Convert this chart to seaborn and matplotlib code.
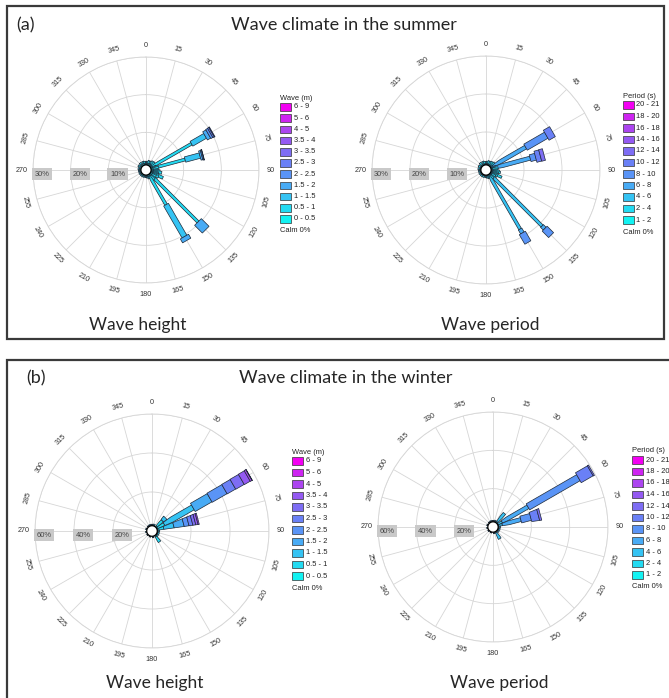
import numpy as np
import matplotlib
matplotlib.use("Agg")
import matplotlib.pyplot as plt
from matplotlib.patches import Rectangle
import seaborn as sns

# ---------------------------------------------------------------- data
HEIGHT_CLASSES = ["0 - 0.5", "0.5 - 1", "1 - 1.5", "1.5 - 2", "2 - 2.5", "2.5 - 3",
                  "3 - 3.5", "3.5 - 4", "4 - 5", "5 - 6", "6 - 9"]
PERIOD_CLASSES = ["1 - 2", "2 - 4", "4 - 6", "6 - 8", "8 - 10", "10 - 12",
                  "12 - 14", "14 - 16", "16 - 18", "18 - 20", "20 - 21"]

# frequency (%) per direction (deg) and class, lowest class first
SUMMER_HS_DIRS = [0, 10, 20, 30, 40, 50, 60, 70, 75, 80, 90, 95, 100, 105, 110, 115, 120,
                  125, 135, 140, 150, 160, 170, 180, 200, 220, 240, 260, 280, 300, 320, 340, 350]
SUMMER_HS = [[0.5, 0.4], [0.5, 0.5], [0.5, 0.8], [0.6, 0.6], [0.6, 1.0], [0.5, 1.2],
             [0.5, 12.1, 4.2, 1.0, 0.6, 0.4, 0.2],
             [0.5, 1.0],
             [0.5, 8.9, 4.1, 0.5, 0.3, 0.1],
             [0.6, 1.5], [0.7, 1.2], [0.6, 1.8], [0.7, 2.2], [0.6, 1.5], [0.6, 1.4],
             [0.6, 3.0], [0.6, 1.8], [0.6, 1.2],
             [0.5, 17.7, 0.0, 2.9],
             [0.6, 1.4],
             [0.4, 8.9, 9.8, 1.2],
             [0.5, 0.6], [0.4, 0.4], [0.4, 0.3], [0.4, 0.3], [0.4, 0.3], [0.4, 0.3],
             [0.4, 0.3], [0.4, 0.4], [0.5, 0.5], [0.5, 0.6], [0.5, 0.6], [0.5, 0.5]]

SUMMER_TP_DIRS = SUMMER_HS_DIRS
SUMMER_TP = [[0.3, 0.6], [0.3, 0.7], [0.3, 0.9], [0.4, 0.8], [0.4, 1.0], [0.4, 1.2],
             [0.0, 0.3, 0.5, 9.9, 6.3, 1.9],
             [0.4, 1.0],
             [0.0, 0.3, 0.5, 9.9, 1.5, 1.3, 1.0],
             [0.4, 1.5], [0.5, 1.3], [0.4, 1.8], [0.5, 2.0], [0.4, 1.6], [0.4, 1.5],
             [0.4, 2.8], [0.4, 1.6], [0.4, 1.2],
             [0.0, 0.5, 19.0, 1.0, 2.4],
             [0.4, 1.2],
             [0.0, 0.5, 16.1, 1.2, 2.9],
             [0.4, 0.6], [0.3, 0.5], [0.3, 0.4], [0.3, 0.4], [0.3, 0.4], [0.3, 0.4],
             [0.3, 0.4], [0.3, 0.5], [0.3, 0.6], [0.4, 0.7], [0.4, 0.7], [0.3, 0.6]]

WINTER_HS_DIRS = [0, 20, 45, 60, 75, 90, 110, 130, 145, 170, 200, 230, 260, 290, 320, 340]
WINTER_HS = [[0.4, 0.4], [0.4, 0.6],
             [0.8, 4.0, 2.2],
             [0.5, 4.0, 17.1, 9.9, 8.8, 5.0, 5.0, 3.5, 1.0, 0.2],
             [0.5, 3.0, 5.3, 5.2, 2.5, 2.0, 1.5, 1.2, 0.6],
             [0.4, 0.8], [0.4, 0.8], [0.4, 0.8],
             [0.8, 3.3],
             [0.4, 0.4], [0.3, 0.3], [0.3, 0.3], [0.3, 0.3], [0.3, 0.4], [0.3, 0.4], [0.4, 0.4]]

WINTER_TP_DIRS = [0, 20, 40, 60, 75, 90, 110, 130, 150, 170, 200, 230, 260, 290, 320, 340]
WINTER_TP = [[0.0, 0.4, 0.4], [0.0, 0.4, 0.6],
             [0.0, 0.8, 5.8],
             [0.0, 0.3, 2.4, 15.7, 30.4, 7.2, 0.7],
             [0.0, 0.3, 2.0, 10.1, 5.3, 4.2, 1.1],
             [0.0, 0.4, 0.8], [0.0, 0.4, 0.8], [0.0, 0.4, 0.8],
             [0.0, 0.8, 3.6],
             [0.0, 0.4, 0.4], [0.0, 0.3, 0.3], [0.0, 0.3, 0.3], [0.0, 0.3, 0.3],
             [0.0, 0.3, 0.4], [0.0, 0.3, 0.4], [0.0, 0.4, 0.4]]

SUMMER_RINGS = [10, 20, 30]
WINTER_RINGS = [20, 40, 60]

# ---------------------------------------------------------------- style
sns.set_theme(style="white")
plt.rcParams["font.family"] = ["Liberation Sans", "DejaVu Sans"]
TITLE_FONT = ["Lato", "DejaVu Sans"]

CLASS_COLORS = sns.blend_palette(["#12F2F2", "#2FCBF2", "#4FA2F6", "#6A80F6",
                                  "#8C60F2", "#B43EF0", "#F200F2"], 11)
EDGE = "#1E2A38"
# bar thickness (pixels) of each class: higher classes are drawn wider
HEIGHT_WIDTHS = [1.5, 2.8, 5.5, 9.5, 10.5, 11.0, 11.5, 12.0, 12.5, 13.0, 13.5]
PERIOD_WIDTHS = [1.5, 2.3, 3.0, 4.0, 7.0, 11.5, 12.0, 12.5, 13.0, 13.5, 14.0]
CALM_FRAC = 0.045

W, H = 669, 698
fig = plt.figure(figsize=(W / 100, H / 100), dpi=100)


def fx(x):
    return x / W


def fy(y):
    return 1 - y / H


def label_rotation(ang):
    if ang % 90 == 0:
        return 0
    if ang < 90:
        return -ang
    if ang < 270:
        return 180 - ang
    return 360 - ang


def segment(ax, theta, r0, r1, width_px, px_per_unit, color):
    """Stacked rose segment with parallel sides of constant pixel thickness."""
    rs = np.linspace(r0, r1, 12)
    off = np.minimum((width_px / 2) / (rs * px_per_unit), np.radians(7))
    th = np.concatenate([theta - off, (theta + off)[::-1]])
    rr = np.concatenate([rs, rs[::-1]])
    ax.fill(th, rr, facecolor=color, edgecolor=EDGE, lw=0.5, zorder=3)


def draw_rose(cx, cy, R, dirs, table, rings, widths):
    ax = fig.add_axes([fx(cx - R), fy(cy + R), 2 * R / W, 2 * R / H], projection="polar")
    rmax = rings[-1]
    ax.set_theta_zero_location("N")
    ax.set_theta_direction(-1)
    ax.set_xticks(np.radians(np.arange(0, 360, 15)))
    ax.set_xticklabels([])
    ax.set_yticks(rings)
    ax.set_yticklabels([])
    ax.grid(True, color="#D6D6D6", lw=0.6)
    ax.spines["polar"].set_color("#D6D6D6")
    ax.spines["polar"].set_linewidth(0.6)
    ax.set_facecolor("white")
    ax.set_axisbelow(True)

    hole = rmax * CALM_FRAC
    px_per_unit = R / rmax
    for d, row in zip(dirs, table):
        bottom = hole
        for k, v in enumerate(row):
            if v <= 0:
                continue
            segment(ax, np.radians(d), bottom, bottom + v, widths[k], px_per_unit,
                    CLASS_COLORS[k])
            bottom += v

    t = np.linspace(0, 2 * np.pi, 200)
    ax.fill(t, np.full_like(t, hole), facecolor="white", edgecolor="black", lw=0.9, zorder=4)
    ax.set_ylim(0, rmax)

    for ang in range(0, 360, 15):
        ax.text(np.radians(ang), rmax * 1.1, str(ang), rotation=label_rotation(ang),
                ha="center", va="center", fontsize=5.2, color="#333333", clip_on=False)

    for r in rings:
        ax.annotate(f"{r}%", xy=(np.radians(270), r), xytext=(1.2, -3),
                    textcoords="offset points", ha="left", va="center", fontsize=5.4,
                    color="#444444", zorder=5,
                    bbox=dict(boxstyle="square,pad=0.35", fc="#C9C9C9", ec="none"))
    return ax


def draw_legend(x, y_title, title, labels, pitch):
    fig.text(fx(x), fy(y_title), title, fontsize=5.4, ha="left", va="center", color="#222222")
    n = len(labels)
    for i in range(n):
        k = n - 1 - i
        yc = y_title + 9 + i * pitch
        fig.add_artist(Rectangle((fx(x), fy(yc + 3.8)), 11 / W, 7.6 / H,
                                 transform=fig.transFigure, fc=CLASS_COLORS[k],
                                 ec="#333333", lw=0.5))
        fig.text(fx(x + 13.5), fy(yc), labels[k], fontsize=5.4, ha="left", va="center",
                 color="#222222")
    fig.text(fx(x), fy(y_title + 9 + (n - 1) * pitch + 12), "Calm 0%", fontsize=5.4,
             ha="left", va="center", color="#222222")


# panel frames
fig.add_artist(Rectangle((fx(7), fy(339)), fx(664) - fx(7), fy(6) - fy(339),
                         transform=fig.transFigure, fill=False, ec="#3A3A3A", lw=1.6))
fig.add_artist(Rectangle((fx(7), fy(705)), fx(675) - fx(7), fy(360) - fy(705),
                         transform=fig.transFigure, fill=False, ec="#3A3A3A", lw=1.6,
                         clip_on=False))

# (a) summer
fig.text(fx(16), fy(25), "(a)", fontsize=13, family=TITLE_FONT, ha="left", va="center")
fig.text(fx(344), fy(25), "Wave climate in the summer", fontsize=13, family=TITLE_FONT,
         ha="center", va="center")
draw_rose(146, 170, 113, SUMMER_HS_DIRS, SUMMER_HS, SUMMER_RINGS, HEIGHT_WIDTHS)
draw_rose(486, 170, 114, SUMMER_TP_DIRS, SUMMER_TP, SUMMER_RINGS, PERIOD_WIDTHS)
draw_legend(280, 98, "Wave (m)", HEIGHT_CLASSES, 11.2)
draw_legend(623, 96, "Period (s)", PERIOD_CLASSES, 11.5)
fig.text(fx(138), fy(325), "Wave height", fontsize=12.5, family=TITLE_FONT, ha="center", va="center")
fig.text(fx(490), fy(325), "Wave period", fontsize=12.5, family=TITLE_FONT, ha="center", va="center")

# (b) winter
fig.text(fx(26), fy(378), "(b)", fontsize=13, family=TITLE_FONT, ha="left", va="center")
fig.text(fx(346), fy(378), "Wave climate in the winter", fontsize=13, family=TITLE_FONT,
         ha="center", va="center")
draw_rose(152, 531, 117, WINTER_HS_DIRS, WINTER_HS, WINTER_RINGS, HEIGHT_WIDTHS)
draw_rose(493, 527, 115, WINTER_TP_DIRS, WINTER_TP, WINTER_RINGS, PERIOD_WIDTHS)
draw_legend(292, 452, "Wave (m)", HEIGHT_CLASSES, 11.5)
draw_legend(632, 451, "Period (s)", PERIOD_CLASSES, 11.5)
fig.text(fx(155), fy(683), "Wave height", fontsize=12.5, family=TITLE_FONT, ha="center", va="center")
fig.text(fx(499), fy(683), "Wave period", fontsize=12.5, family=TITLE_FONT, ha="center", va="center")

fig.savefig("out.png", dpi=100, facecolor="white")
